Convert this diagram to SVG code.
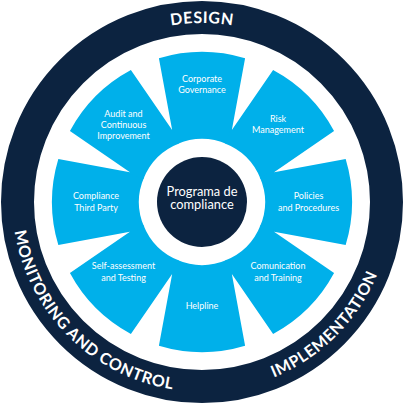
<svg xmlns="http://www.w3.org/2000/svg" xmlns:xlink="http://www.w3.org/1999/xlink" width="404" height="404" viewBox="0 0 404 404">
<style>
.seg{fill:#00b0ea}
.lbl{font-family:Lato,"Open Sans","DejaVu Sans",sans-serif;font-size:9px;fill:#ffffff;text-anchor:middle}
.ring{font-family:Lato,"Open Sans","DejaVu Sans",sans-serif;font-size:16px;font-weight:700;fill:#ffffff;letter-spacing:0.6px}
.ctr{font-family:Lato,"Open Sans","DejaVu Sans",sans-serif;font-size:12.8px;fill:#ffffff;text-anchor:middle}
</style>
<defs>
<path id="segshape" d="M172.15,129.94 L158.90,58.33 A150,150 0 0 1 245.10,58.33 L231.85,129.94 L233.10,130.47 L227.12,144.23 A63,63 0 0 0 176.88,144.23 L170.90,130.47 Z"/>
<path id="pDesign" d="M23,202 A179,179 0 0 1 381,202"/>
<path id="pMon" d="M67.65,67.65 A190,190 0 0 0 336.35,336.35"/>
<path id="pImp" d="M67.65,336.35 A190,190 0 0 0 336.35,67.65"/>
</defs>
<rect width="404" height="404" fill="#ffffff"/>
<g id="outer-ring">
<circle cx="202" cy="202" r="184.5" fill="none" stroke="#0c2340" stroke-width="33"/>
<text class="ring"><textPath xlink:href="#pDesign" startOffset="50%" text-anchor="middle">DESIGN</textPath></text>
<text class="ring"><textPath xlink:href="#pMon" startOffset="50%" text-anchor="middle">MONITORING AND CONTROL</textPath></text>
<text class="ring"><textPath xlink:href="#pImp" startOffset="50%" text-anchor="middle">IMPLEMENTATION</textPath></text>
</g>
<g id="connectors"></g>
<g id="corporate-governance">
<use xlink:href="#segshape" class="seg"/>
<text class="lbl" x="202" y="81.5">Corporate</text>
<text class="lbl" x="202" y="92.5">Governance</text>
</g>
<g id="risk-management">
<use xlink:href="#segshape" class="seg" transform="rotate(45 202 202)"/>
<text class="lbl" x="278" y="121.5">Risk</text>
<text class="lbl" x="278" y="133">Management</text>
</g>
<g id="policies-procedures">
<use xlink:href="#segshape" class="seg" transform="rotate(90 202 202)"/>
<text class="lbl" x="308.5" y="199">Policies</text>
<text class="lbl" x="308.5" y="210.5">and Procedures</text>
</g>
<g id="comunication-training">
<use xlink:href="#segshape" class="seg" transform="rotate(135 202 202)"/>
<text class="lbl" x="278" y="269">Comunication</text>
<text class="lbl" x="278" y="280.5">and Training</text>
</g>
<g id="helpline">
<use xlink:href="#segshape" class="seg" transform="rotate(180 202 202)"/>
<text class="lbl" x="202" y="309">Helpline</text>
</g>
<g id="self-assessment-testing">
<use xlink:href="#segshape" class="seg" transform="rotate(225 202 202)"/>
<text class="lbl" x="123.5" y="269">Self-assessment</text>
<text class="lbl" x="123.5" y="280.5">and Testing</text>
</g>
<g id="compliance-third-party">
<use xlink:href="#segshape" class="seg" transform="rotate(270 202 202)"/>
<text class="lbl" x="96" y="199">Compliance</text>
<text class="lbl" x="96" y="210.5">Third Party</text>
</g>
<g id="audit-improvement">
<use xlink:href="#segshape" class="seg" transform="rotate(315 202 202)"/>
<text class="lbl" x="123.5" y="116.5">Audit and</text>
<text class="lbl" x="123.5" y="127.5">Continuous</text>
<text class="lbl" x="123.5" y="138.5">Improvement</text>
</g>
<g id="programa-compliance">
<circle cx="202" cy="202" r="45" fill="#0c2340"/>
<text class="ctr" x="202" y="195.5">Programa de</text>
<text class="ctr" x="202" y="209">compliance</text>
</g>
</svg>
